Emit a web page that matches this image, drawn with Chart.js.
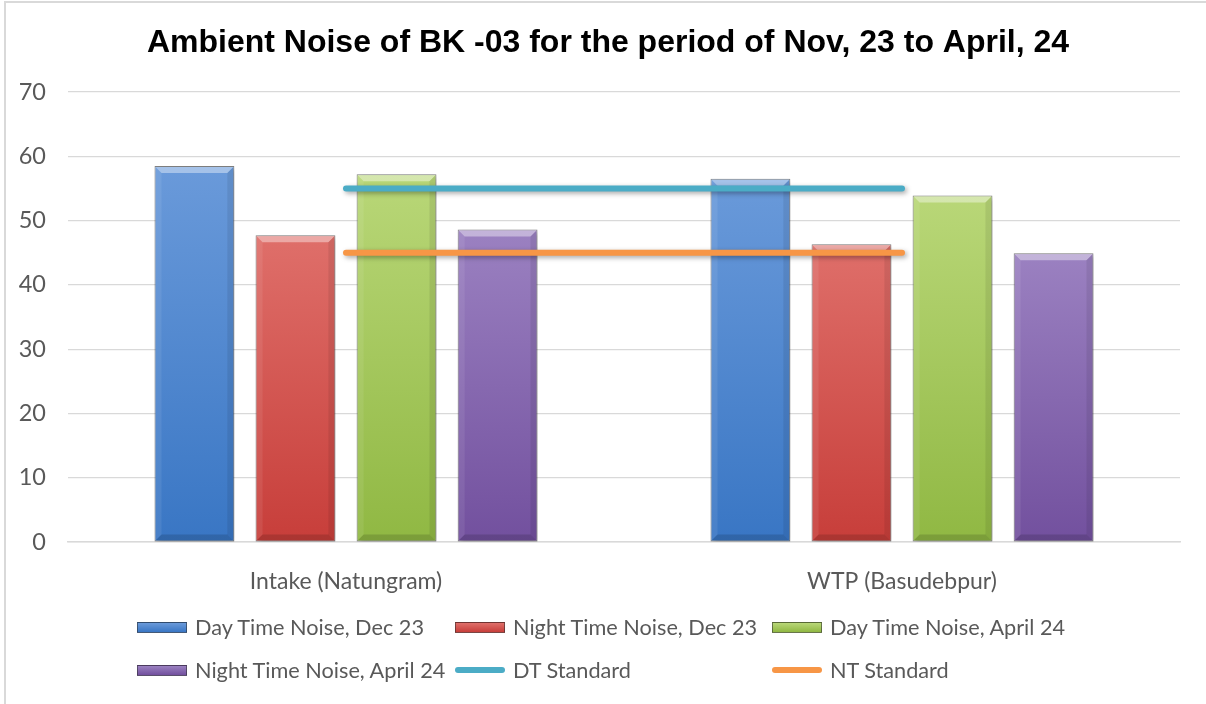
<!DOCTYPE html>
<html>
<head>
<meta charset="utf-8">
<script src="https://cdn.jsdelivr.net/npm/chart.js@4.4.1/dist/chart.umd.min.js"></script>
<style>
  html, body { margin: 0; padding: 0; background: #fff; overflow: hidden; }
  #wrap { position: relative; width: 1206px; height: 704px; overflow: hidden; background: #fff; }
  canvas { display: block; }
  #legend { position: absolute; left: 137px; top: 612px; width: 1000px; font-family: Lato, "Open Sans", sans-serif; font-size: 21.7px; color: #595959; }
  .item { position: absolute; display: flex; align-items: center; height: 30px; white-space: nowrap; }
  .box { width: 48px; height: 9px; margin-right: 8px; border: 1px solid rgba(40,40,40,0.55); box-sizing: content-box; }
  .ln { width: 50px; height: 6px; border-radius: 3px; margin-right: 8px; }
</style>
</head>
<body>
<div id="wrap">
  <canvas id="c" width="1206" height="704"></canvas>
  <div id="legend"></div>
</div>
<script>
const categories = ['Intake (Natungram)', 'WTP (Basudebpur)'];
const dayDec = [58.5, 56.5];
const nightDec = [47.7, 46.3];
const dayApr = [57.2, 53.9];
const nightApr = [48.6, 44.9];
const dtStandard = [55, 55];
const ntStandard = [45, 45];
const yTicks = [0, 10, 20, 30, 40, 50, 60, 70];

const seriesNames = ['Day Time Noise, Dec 23', 'Night Time Noise, Dec 23', 'Day Time Noise, April 24', 'Night Time Noise, April 24', 'DT Standard', 'NT Standard'];
const barTop = ['#6a9ada', '#df6f6a', '#b9d778', '#9b81c1'];
const barBot = ['#3976c4', '#c73e3a', '#90b843', '#72509e'];
const lineColors = ['#4bacc6', '#f79646'];

function barFill(i) {
  return function(ctx) {
    const chart = ctx.chart;
    const area = chart.chartArea;
    if (!area) return barBot[i];
    const y = chart.scales.y;
    const top = y.getPixelForValue(ctx.raw);
    const base = y.getPixelForValue(0);
    const g = chart.ctx.createLinearGradient(0, top, 0, base);
    g.addColorStop(0, barTop[i]);
    g.addColorStop(1, barBot[i]);
    return g;
  };
}

const frame = {
  id: 'frame',
  beforeDraw(chart) {
    const c = chart.ctx;
    c.save();
    c.fillStyle = '#ffffff';
    c.fillRect(0, 0, chart.width, chart.height);
    c.fillStyle = '#d9d9d9';
    c.fillRect(4, 1, chart.width - 4, 2);
    c.fillRect(4, 1, 2, chart.height - 1);
    c.restore();
  }
};

const bevel = {
  id: 'bevel',
  beforeDatasetDraw(chart) {
    const c = chart.ctx;
    c.save();
    c.shadowColor = 'rgba(0,0,0,0.35)';
    c.shadowBlur = 5;
    c.shadowOffsetX = 2;
    c.shadowOffsetY = 2;
  },
  afterDatasetDraw(chart, args) {
    const c = chart.ctx;
    c.restore();
    const ds = chart.data.datasets[args.index];
    if (ds.type === 'line') return;
    args.meta.data.forEach(el => {
      const x0 = el.x - el.width / 2, x1 = el.x + el.width / 2;
      const t = el.y, b = el.base, d = 7;
      c.save();
      c.beginPath();
      c.moveTo(x0 + 1, t + 1); c.lineTo(x1 - 1, t + 1); c.lineTo(x1 - d, t + d); c.lineTo(x0 + d, t + d); c.closePath();
      c.fillStyle = 'rgba(255,255,255,0.4)';
      c.fill();
      c.beginPath();
      c.moveTo(x0 + 1, t + 1); c.lineTo(x0 + d, t + d); c.lineTo(x0 + d, b - d); c.lineTo(x0 + 1, b - 1); c.closePath();
      c.fillStyle = 'rgba(255,255,255,0.08)';
      c.fill();
      c.beginPath();
      c.moveTo(x1 - 1, t + 1); c.lineTo(x1 - d, t + d); c.lineTo(x1 - d, b - d); c.lineTo(x1 - 1, b - 1); c.closePath();
      c.fillStyle = 'rgba(0,0,0,0.08)';
      c.fill();
      c.beginPath();
      c.moveTo(x0 + 1, b - 1); c.lineTo(x0 + d, b - d); c.lineTo(x1 - d, b - d); c.lineTo(x1 - 1, b - 1); c.closePath();
      c.fillStyle = 'rgba(0,0,0,0.14)';
      c.fill();
      c.restore();
    });
  }
};

const barSets = [dayDec, nightDec, dayApr, nightApr].map((d, i) => ({
  type: 'bar',
  label: seriesNames[i],
  data: d,
  backgroundColor: barFill(i),
  borderColor: 'rgba(50,50,50,0.6)',
  borderWidth: 1,
  borderSkipped: false,
  categoryPercentage: 0.727,
  barPercentage: 0.79,
  order: 1
}));
const lineSets = [dtStandard, ntStandard].map((d, i) => ({
  type: 'line',
  label: seriesNames[4 + i],
  data: d,
  borderColor: lineColors[i],
  backgroundColor: lineColors[i],
  borderWidth: 6,
  borderCapStyle: 'round',
  pointRadius: 0,
  fill: false,
  order: 0
}));

new Chart(document.getElementById('c'), {
  data: { labels: categories, datasets: [...barSets, ...lineSets] },
  plugins: [frame, bevel],
  options: {
    responsive: false,
    animation: false,
    layout: { padding: { left: 10, right: 0, top: 0, bottom: 0 } },
    plugins: {
      legend: { display: false },
      tooltip: { enabled: false },
      title: {
        display: true,
        text: 'Ambient Noise of BK -03 for the period of Nov, 23 to April, 24',
        color: '#000',
        font: { family: '"Liberation Sans", Arial, sans-serif', size: 32, weight: 'bold', lineHeight: 1.2 },
        padding: { top: 24, bottom: 29.6 }
      }
    },
    scales: {
      x: {
        grid: { display: false },
        border: { display: true, color: '#d9d9d9', width: 1.5 },
        ticks: { color: '#595959', font: { family: 'Lato, "Open Sans", sans-serif', size: 23 }, padding: 18 },
        afterFit(s) { s.height = 162; }
      },
      y: {
        min: 0, max: 70,
        afterBuildTicks(s) { s.ticks = yTicks.map(v => ({ value: v })); },
        grid: { color: '#d9d9d9', lineWidth: 1.2, drawTicks: false },
        border: { display: false },
        ticks: { color: '#595959', font: { family: 'Lato, "Open Sans", sans-serif', size: 23.5 }, padding: 22 },
        afterFit(s) { s.width = 58; }
      },
      yR: {
        position: 'right',
        min: 0, max: 70,
        grid: { display: false },
        border: { display: false },
        ticks: { display: false },
        afterFit(s) { s.width = 26; }
      }
    }
  }
});

const legendEl = document.getElementById('legend');
const cols = [0, 318, 635];
seriesNames.forEach((name, i) => {
  const it = document.createElement('div');
  it.className = 'item';
  it.style.left = cols[i % 3] + 'px';
  it.style.top = (Math.floor(i / 3) * 43) + 'px';
  const sw = document.createElement('div');
  if (i < 4) {
    sw.className = 'box';
    sw.style.background = 'linear-gradient(to bottom, ' + barTop[i] + ', ' + barBot[i] + ')';
  } else {
    sw.className = 'ln';
    sw.style.background = lineColors[i - 4];
  }
  const tx = document.createElement('span');
  tx.textContent = name;
  it.appendChild(sw); it.appendChild(tx);
  legendEl.appendChild(it);
});
</script>
</body>
</html>
